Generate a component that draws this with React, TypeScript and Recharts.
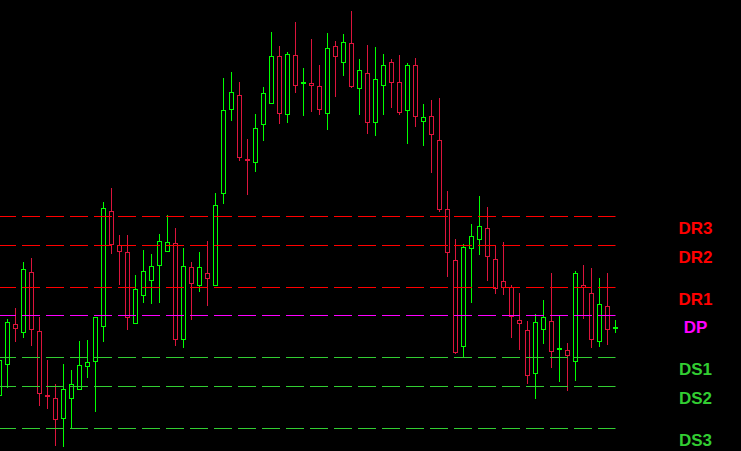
import { Bar, ComposedChart, ReferenceLine, XAxis, YAxis } from 'recharts';

// candle prices, oldest first (chart points, no axis shown)
const opens = [
  55, 86, 126, 118, 178, 119, 55, 52, 32, 52, 61, 84, 89, 124, 239, 205, 198, 127, 155, 170,
  185, 199, 207, 111, 183, 165, 177, 165, 257, 341, 355, 291, 288, 326, 347, 394, 336, 395, 367, 367,
  364, 337, 404, 388, 407, 362, 377, 328, 365, 388, 368, 340, 385, 329, 334, 310, 241, 190, 104, 202,
  211, 222, 191, 169, 163, 130, 120, 77, 121, 129, 101, 100, 89, 165, 157, 109, 144, 122,
];
const highs = [
  94, 131, 142, 188, 192, 133, 90, 66, 86, 80, 109, 110, 133, 248, 262, 215, 215, 175, 200, 196,
  216, 235, 222, 202, 188, 198, 209, 257, 372, 378, 368, 311, 336, 363, 418, 404, 398, 428, 382, 411,
  385, 417, 409, 416, 439, 391, 405, 403, 396, 391, 395, 387, 392, 346, 350, 352, 259, 211, 206, 226,
  254, 243, 205, 208, 165, 157, 129, 136, 150, 177, 135, 107, 179, 185, 182, 172, 177, 130,
];
const lows = [
  52, 63, 109, 113, 105, 45, 42, 5, 4, 23, 61, 73, 39, 109, 197, 166, 121, 127, 148, 147,
  148, 199, 105, 103, 131, 159, 145, 165, 247, 330, 290, 256, 279, 310, 347, 327, 328, 358, 335, 339,
  336, 321, 354, 375, 363, 336, 317, 315, 336, 343, 336, 307, 324, 305, 278, 239, 174, 97, 93, 148,
  196, 170, 157, 156, 113, 101, 67, 52, 107, 83, 69, 60, 70, 132, 103, 104, 106, 118,
];
const closes = [
  90, 128, 122, 181, 121, 57, 54, 31, 61, 66, 85, 88, 133, 242, 206, 199, 133, 161, 179, 184,
  209, 208, 111, 184, 167, 183, 172, 245, 340, 358, 293, 290, 322, 357, 394, 337, 396, 365, 368, 365,
  341, 402, 394, 408, 364, 380, 328, 371, 385, 368, 338, 385, 334, 333, 316, 241, 198, 98, 203, 214,
  224, 194, 162, 163, 134, 127, 75, 128, 133, 99, 102, 95, 177, 163, 111, 146, 121, 123,
];

// daily pivot levels
const levelNames = ['DR3', 'DR2', 'DR1', 'DP', 'DS1', 'DS2', 'DS3'];
const levelValues = [234, 205, 163, 135, 93, 64, 22];
const levelColors = ['#ff0000', '#ff0000', '#ff0000', '#ff00ff', '#32cd32', '#32cd32', '#32cd32'];

const UP = '#00ff00';
const DOWN = '#dc143c';

const data = opens.map((open, i) => ({
  i,
  open,
  high: highs[i],
  low: lows[i],
  close: closes[i],
}));

function Candle(props: any) {
  const { x, y, width, height, payload } = props;
  if (x == null || y == null) return null;
  const { open, close, high, low } = payload;
  const top = Math.min(y, y + height);
  const h = Math.abs(height);
  const py = (v: number) => top + ((high - v) / (high - low)) * h;
  const cx = x + width / 2;
  const color = close > open ? UP : DOWN;
  const bTop = py(Math.max(open, close));
  const bBot = py(Math.min(open, close));
  return (
    <g>
      <line x1={cx} x2={cx} y1={py(high)} y2={py(low)} stroke={color} strokeLinecap="square" />
      <rect
        x={cx - 2}
        y={bTop}
        width={4}
        height={Math.max(bBot - bTop, 1)}
        fill="#000"
        stroke={color}
      />
    </g>
  );
}

export default function App() {
  return (
    <div style={{ width: 741, height: 451, background: '#000' }}>
      <style>{'body{margin:0;background:#000}'}</style>
      <ComposedChart
        width={741}
        height={451}
        data={data}
        margin={{ top: 0, right: 121.5, bottom: 0, left: -4.5 }}
      >
        <XAxis dataKey="i" type="category" hide />
        <YAxis type="number" domain={[-0.5, 450.5]} allowDataOverflow hide />
        {levelValues.map((v, k) => (
          <ReferenceLine
            key={levelNames[k]}
            segment={[
              { x: 0, y: v },
              { x: data.length - 1, y: v },
            ]}
            stroke={levelColors[k]}
            strokeDasharray="18 6"
            strokeDashoffset={1.5}
            label={(p: any) => (
              <text
                x={695.5}
                y={p.viewBox.y + 17}
                textAnchor="middle"
                fill={levelColors[k]}
                fontFamily="Liberation Sans, Arial, sans-serif"
                fontWeight="bold"
                fontSize={17}
              >
                {levelNames[k]}
              </text>
            )}
          />
        ))}
        <Bar
          dataKey={(d: any) => [d.low, d.high]}
          barSize={6}
          shape={Candle}
          isAnimationActive={false}
        />
      </ComposedChart>
    </div>
  );
}
